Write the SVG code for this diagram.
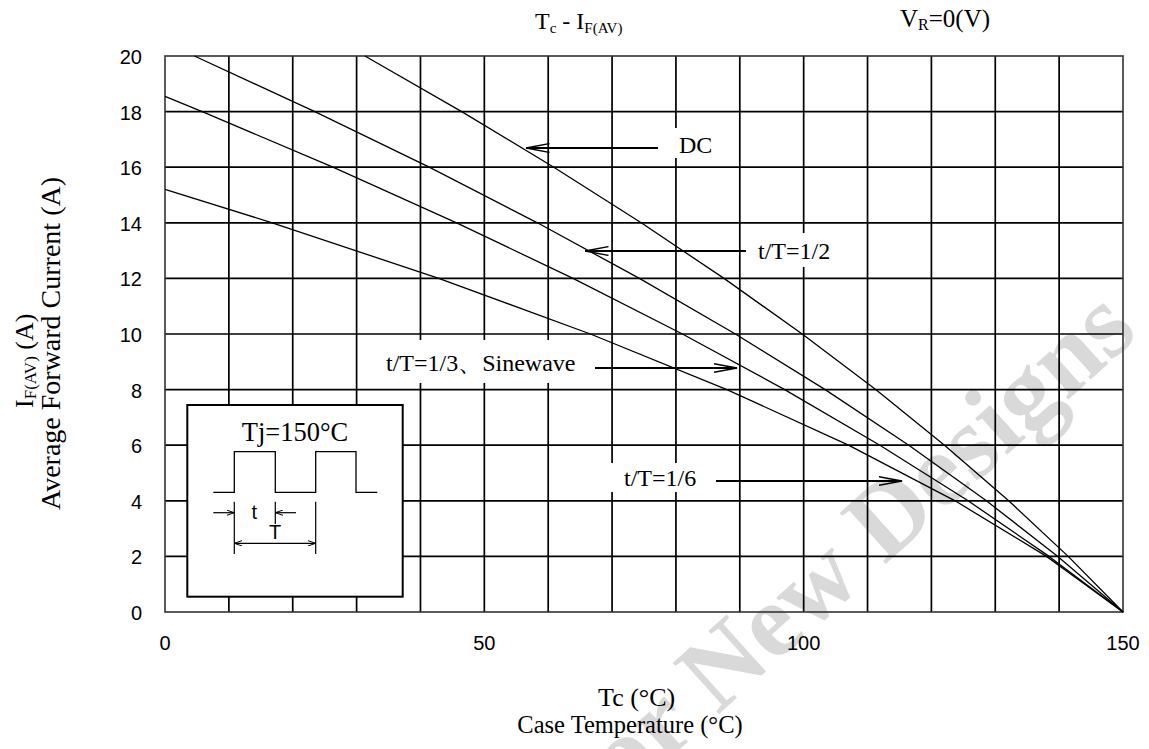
<svg xmlns="http://www.w3.org/2000/svg" width="1149" height="749" viewBox="0 0 1149 749">
<style>
.grid{stroke:#000;stroke-width:1.7;fill:none}
.crv{stroke:#000;stroke-width:1.3;fill:none;stroke-linejoin:round}
.arr{stroke:#000;stroke-width:2;fill:none}
.head{stroke:#000;stroke-width:1.4;fill:none}
.tick{font-family:"Liberation Sans",Arial,sans-serif;font-size:20px;fill:#000}
.ser{font-family:"Liberation Serif","Times New Roman",serif;fill:#000}
.wm{font-family:"Liberation Serif","Times New Roman",serif;font-weight:bold;font-size:105px;fill:#d9d9d9}
</style>
<defs>
<marker id="ah" viewBox="0 0 24 10" refX="23.5" refY="5" markerWidth="24" markerHeight="10" markerUnits="userSpaceOnUse" orient="auto">
<path d="M0,0.6 L23.5,5 L0,9.4" class="head"/>
</marker>
<marker id="sa" viewBox="0 0 8 6" refX="7.8" refY="3" markerWidth="8" markerHeight="6" markerUnits="userSpaceOnUse" orient="auto">
<path d="M0,0.3 L7.8,3 L0,5.7" fill="none" stroke="#000" stroke-width="1"/>
</marker>
<marker id="sas" viewBox="0 0 8 6" refX="0.2" refY="3" markerWidth="8" markerHeight="6" markerUnits="userSpaceOnUse" orient="auto">
<path d="M8,0.3 L0.2,3 L8,5.7" fill="none" stroke="#000" stroke-width="1"/>
</marker>
</defs>
<rect width="1149" height="749" fill="#fff"/>
<text class="wm" transform="translate(1140,335) rotate(-42)" text-anchor="end">Not For New Designs</text>

<g id="grid">
<path class="grid" d="M228.87,56V612M292.73,56V612M356.6,56V612M420.47,56V612M484.33,56V612M548.2,56V612M612.07,56V612M675.93,56V612M739.8,56V612M803.67,56V612M867.53,56V612M931.4,56V612M995.27,56V612M1059.13,56V612"/>
<path class="grid" d="M165,556.4H1123M165,500.8H1123M165,445.2H1123M165,389.6H1123M165,334H1123M165,278.4H1123M165,222.8H1123M165,167.2H1123M165,111.6H1123"/>
<rect x="165" y="56" width="958" height="556" fill="none" stroke="#333" stroke-width="1.6"/>
</g>

<g id="y-ticks" class="tick" text-anchor="end">
<text x="142" y="64">20</text>
<text x="142" y="119.6">18</text>
<text x="142" y="175.2">16</text>
<text x="142" y="230.8">14</text>
<text x="142" y="286.4">12</text>
<text x="142" y="342">10</text>
<text x="142" y="397.6">8</text>
<text x="142" y="453.2">6</text>
<text x="142" y="508.8">4</text>
<text x="142" y="564.4">2</text>
<text x="142" y="620">0</text>
</g>
<g id="x-ticks" class="tick" text-anchor="middle">
<text x="165" y="650">0</text>
<text x="484.3" y="650">50</text>
<text x="803.7" y="650">100</text>
<text x="1123" y="650">150</text>
</g>

<g id="titles" class="ser">
<text x="535" y="29" font-size="24">T<tspan font-size="15" dy="4">c</tspan><tspan dy="-4"> - I</tspan><tspan font-size="15" dy="4">F(AV)</tspan></text>
<text x="900" y="27" font-size="25">V<tspan font-size="16" dy="3">R</tspan><tspan dy="-3">=0(V)</tspan></text>
<text x="636.7" y="706" font-size="26" text-anchor="middle">Tc (°C)</text>
<text x="630" y="733" font-size="24.5" text-anchor="middle">Case Temperature (°C)</text>
<text transform="translate(33,408) rotate(-90)" font-size="26">I<tspan font-size="17" dy="3">F(AV)</tspan><tspan dy="-3"> (A)</tspan></text>
<text transform="translate(60,510) rotate(-90)" font-size="28">Average Forward Current (A)</text>
</g>

<g id="label-backs" fill="#fff">
<rect x="665" y="128" width="60" height="30"/>
<rect x="750" y="233" width="90" height="34"/>
<rect x="365" y="340" width="222" height="43"/>
<rect x="605" y="463" width="102" height="29"/>
</g>

<g id="curves">
<polyline id="curve-dc" class="crv" points="364.9,56 461.7,111.6 553.8,167.2 641.2,222.8 724.0,278.4 802.2,334 875.7,389.6 944.5,445.2 1008.7,500.8 1068.2,556.4 1123,612"/>
<polyline id="curve-half" class="crv" points="194.4,56 314.8,111.6 429.2,167.2 537.4,222.8 639.4,278.4 735.4,334 825.2,389.6 908.8,445.2 986.4,500.8 1057.8,556.4 1123,612"/>
<polyline id="curve-third" class="crv" points="165,96.3 202.2,111.6 332.9,167.2 456.6,222.8 573.0,278.4 682.4,334 784.7,389.6 879.9,445.2 968.1,500.8 1049.1,556.4 1123,612"/>
<polyline id="curve-sixth" class="crv" points="165,189.4 272.2,222.8 438.7,278.4 590.4,334 726.9,389.6 848.5,445.2 955.1,500.8 1046.5,556.4 1123,612"/>
</g>

<g id="connectors">
<line class="arr" x1="658" y1="148" x2="526" y2="148" marker-end="url(#ah)"/>
<line class="arr" x1="746" y1="251" x2="585" y2="251" marker-end="url(#ah)"/>
<line class="arr" x1="595" y1="368" x2="737" y2="368" marker-end="url(#ah)"/>
<line class="arr" x1="716" y1="481" x2="902" y2="481" marker-end="url(#ah)"/>
</g>

<g id="label-dc" class="ser" font-size="24"><text x="679" y="153">DC</text></g>
<g id="label-half" class="ser" font-size="24"><text x="758" y="259">t/T=1/2</text></g>
<g id="label-third" class="ser" font-size="24"><text x="386" y="371">t/T=1/3、Sinewave</text></g>
<g id="label-sixth" class="ser" font-size="24"><text x="624" y="486">t/T=1/6</text></g>

<g id="inset">
<rect x="187.3" y="405" width="215.4" height="191.7" fill="#fff" stroke="#000" stroke-width="2"/>
<text class="ser" x="295" y="441" font-size="26.5" text-anchor="middle">Tj=150°C</text>
<polyline points="213.3,492.3 234.3,492.3 234.3,451.7 275.3,451.7 275.3,492.3 315.7,492.3 315.7,451.7 356,451.7 356,492.3 377.3,492.3" fill="none" stroke="#000" stroke-width="1.3"/>
<path d="M234.3,501.7V554M275.3,501.7V524M315.7,501.7V554" stroke="#000" stroke-width="1.2" fill="none"/>
<line x1="213.3" y1="512.7" x2="234.3" y2="512.7" stroke="#000" stroke-width="1.2" marker-end="url(#sa)"/>
<line x1="296" y1="512.7" x2="275.3" y2="512.7" stroke="#000" stroke-width="1.2" marker-end="url(#sa)"/>
<line x1="234.3" y1="543.3" x2="315.7" y2="543.3" stroke="#000" stroke-width="1.2" marker-start="url(#sas)" marker-end="url(#sa)"/>
<text class="tick" x="254.3" y="518.5" font-size="16" text-anchor="middle">t</text>
<text class="tick" x="275" y="539" font-size="17" text-anchor="middle">T</text>
</g>
</svg>
